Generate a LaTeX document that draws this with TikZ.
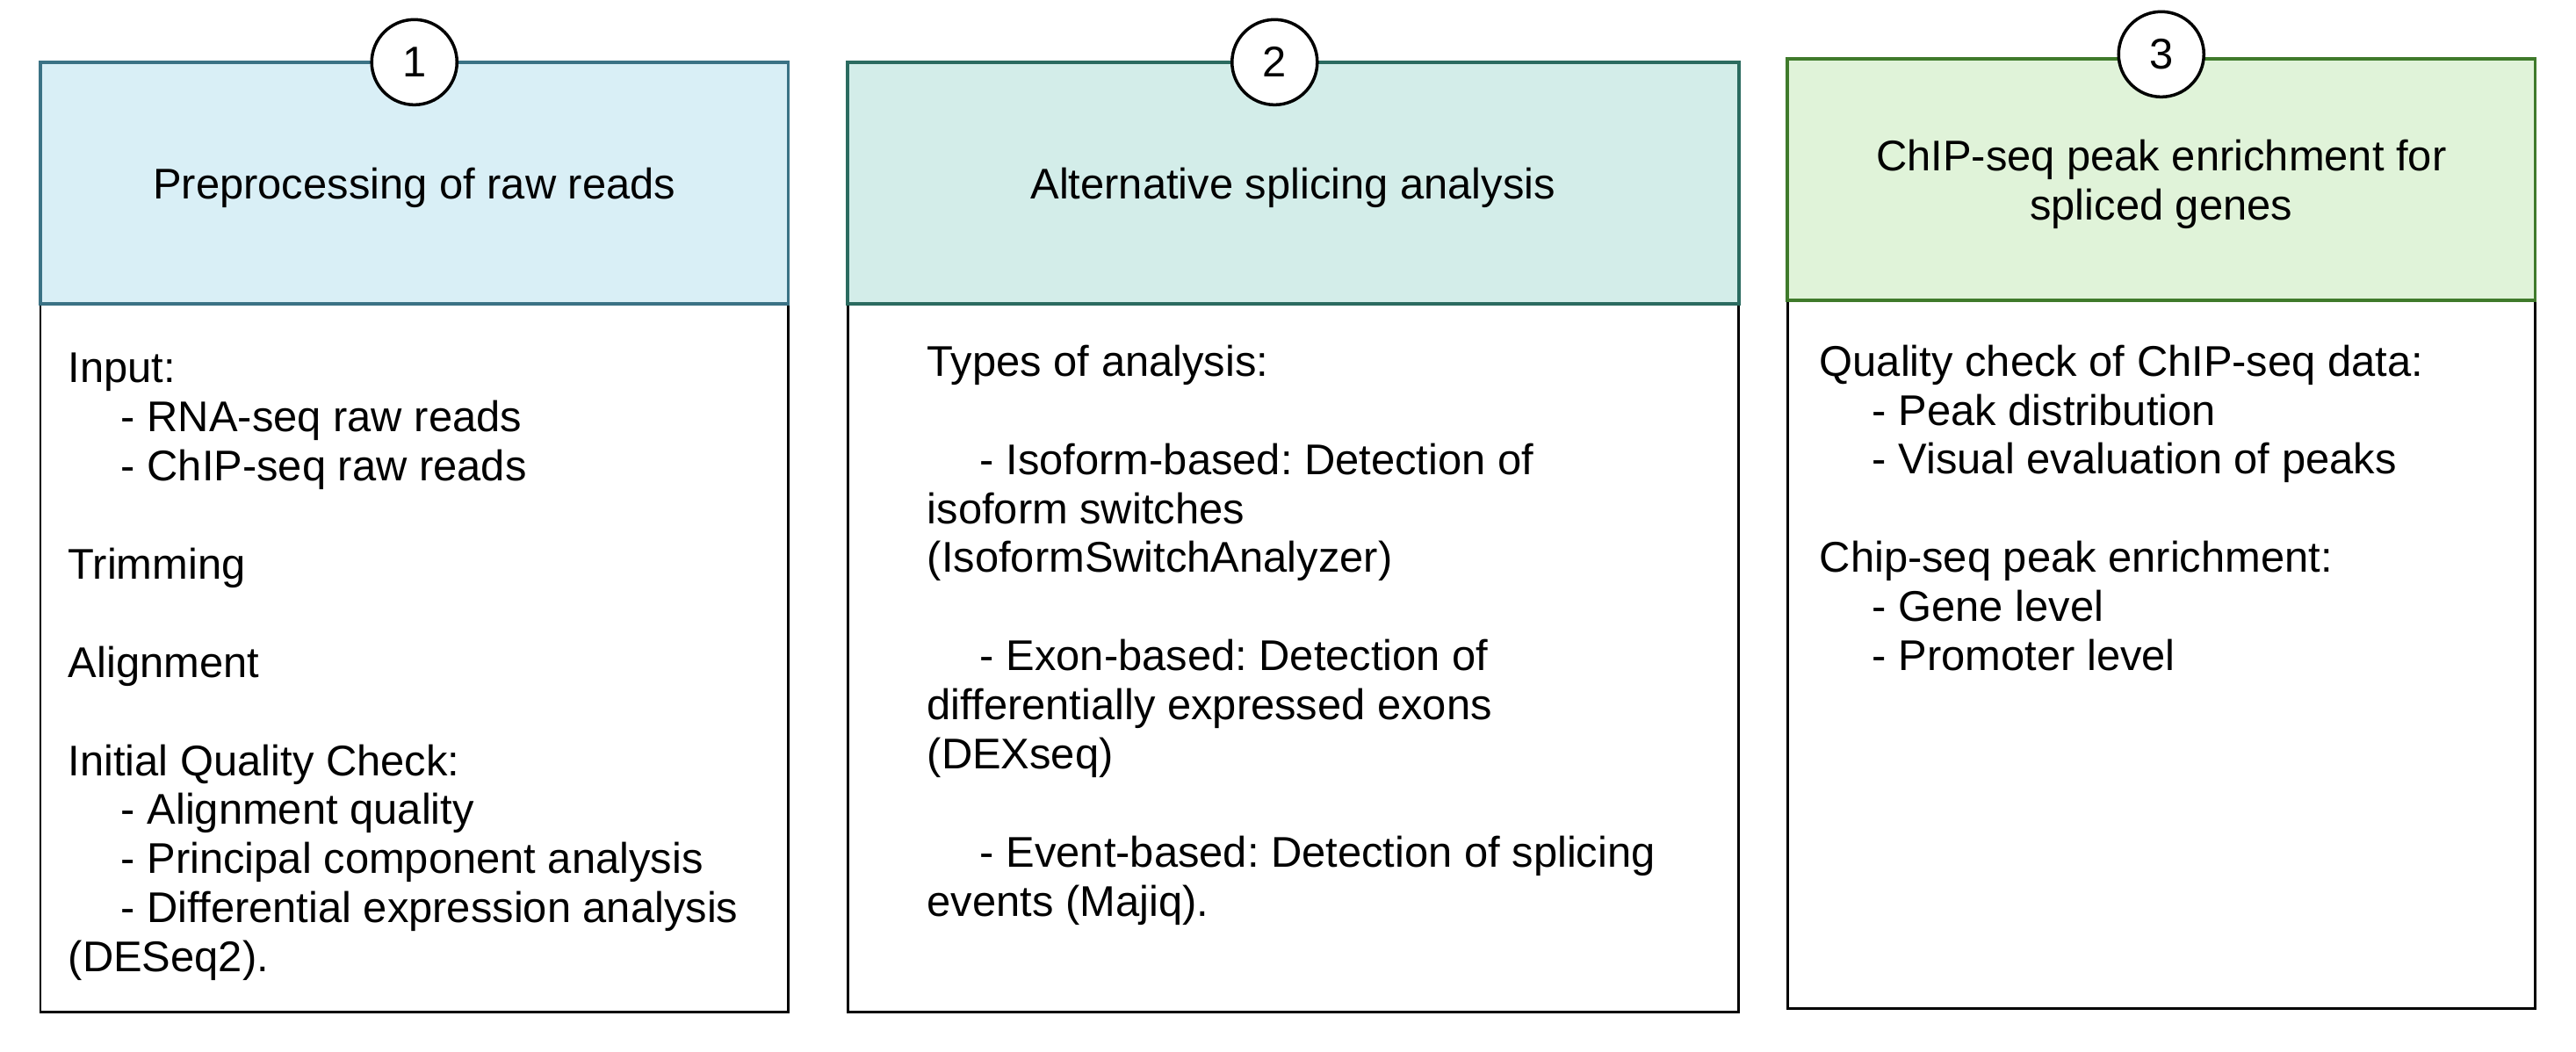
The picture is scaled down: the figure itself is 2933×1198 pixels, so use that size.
\documentclass[tikz,border=0pt]{standalone}
\usepackage{fontspec}
\setmainfont{Liberation Sans}
\usepackage{xcolor}
\usepackage{tikz}
\usetikzlibrary{positioning}
\definecolor{prepfill}{HTML}{D9EFF6}
\definecolor{prepline}{HTML}{3B7285}
\definecolor{splicefill}{HTML}{D3EDE9}
\definecolor{spliceline}{HTML}{2B6B60}
\definecolor{chipfill}{HTML}{E0F3D9}
\definecolor{chipline}{HTML}{3F7A2B}
\newcommand{\subind}{\hspace*{0.6cm}}
\frenchspacing
\tikzset{
  headbox/.style={draw,line width=1.1pt,minimum height=2.75cm,align=center,text depth=0pt,inner sep=0pt,outer sep=0pt},
  bodybox/.style={draw=black,line width=0.85pt,fill=white,minimum height=8.06cm,inner sep=0pt,outer sep=0pt},
  bodytext/.style={align=left,inner sep=0pt},
  stepnum/.style={circle,draw=black,line width=1pt,fill=white,minimum size=0.97cm,inner sep=0pt}
}

\begin{document}
\begin{tikzpicture}[x=0.01cm,y=-0.01cm,font=\fontsize{13.9}{15.9}\selectfont]
  \useasboundingbox (0,0) rectangle (2933,1198);
  % panel 1
  \node[bodybox,minimum width=8.51cm,anchor=north west] (prepbody) at (46,346) {};
  \node[headbox,fill=prepfill,draw=prepline,minimum width=8.51cm,above=0pt of prepbody] (prep) {Preprocessing of raw reads};
  \node[stepnum] (prepnum) at (prep.north) {1};
  \node[bodytext,below right=0.55cm and 0.31cm of prepbody.north west] (preptext) {Input:\\
    \subind- RNA-seq raw reads\\
    \subind- ChIP-seq raw reads\\[0.56cm]
    Trimming\\[0.56cm]
    Alignment\\[0.56cm]
    Initial Quality Check:\\
    \subind- Alignment quality\\
    \subind- Principal component analysis\\
    \subind- Differential expression analysis\\
    (DESeq2).};
  % panel 2
  \node[bodybox,minimum width=10.14cm,anchor=north west] (splicebody) at (965,346) {};
  \node[headbox,fill=splicefill,draw=spliceline,minimum width=10.14cm,above=0pt of splicebody] (splice) {Alternative splicing analysis};
  \node[stepnum] (splicenum) at ([xshift=-0.21cm]splice.north) {2};
  \node[bodytext,below right=0.46cm and 0.9cm of splicebody.north west] (splicetext) {Types of analysis:\\[0.56cm]
    \subind- Isoform-based: Detection of\\
    isoform switches\\
    (IsoformSwitchAnalyzer)\\[0.56cm]
    \subind- Exon-based: Detection of\\
    differentially expressed exons\\
    (DEXseq)\\[0.56cm]
    \subind- Event-based: Detection of splicing\\
    events (Majiq).};
  % panel 3
  \node[bodybox,minimum width=8.51cm,anchor=north west] (chipbody) at (2035,342) {};
  \node[headbox,fill=chipfill,draw=chipline,minimum width=8.51cm,above=0pt of chipbody] (chip) {ChIP-seq peak enrichment for\\spliced genes};
  \node[stepnum] (chipnum) at ([yshift=0.05cm]chip.north) {3};
  \node[bodytext,below right=0.5cm and 0.36cm of chipbody.north west] (chiptext) {Quality check of ChIP-seq data:\\
    \subind- Peak distribution\\
    \subind- Visual evaluation of peaks\\[0.56cm]
    Chip-seq peak enrichment:\\
    \subind- Gene level\\
    \subind- Promoter level};
\end{tikzpicture}
\end{document}
